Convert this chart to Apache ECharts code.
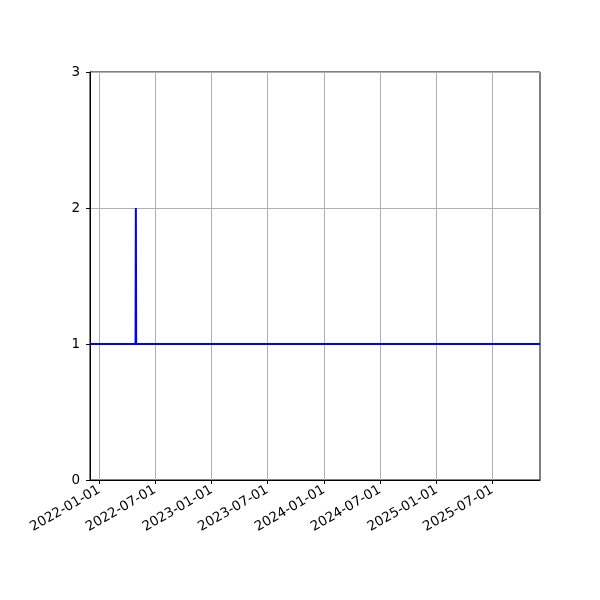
<!DOCTYPE html>
<html>
<head>
<meta charset="utf-8">
<script src="https://cdn.jsdelivr.net/npm/echarts@6/dist/echarts.min.js"></script>
<style>
  html, body { margin: 0; padding: 0; background: #fff; }
  #chart { width: 600px; height: 600px; }
</style>
</head>
<body>
<div id="chart"></div>
<script>
// series: constant 1 with a one-day jump to 2
var dates = ['2021-12-02', '2022-04-29', '2022-04-30', '2022-05-01', '2025-12-03'];
var values = [1, 1, 2, 1, 1];
var xTicks = ['2022-01-01', '2022-07-01', '2023-01-01', '2023-07-01',
              '2024-01-01', '2024-07-01', '2025-01-01', '2025-07-01'];
var yTicks = [0, 1, 2, 3];

var chart = echarts.init(document.getElementById('chart'));

var pts = [];
for (var i = 0; i < dates.length; i++) {
    pts.push([dates[i], values[i]]);
}
var tickTimes = xTicks.map(function (d) { return +new Date(d); });

var option = {
    animation: false,
    grid: {
        left: 90,
        right: 60,
        top: 72,
        bottom: 120,
        show: true,
        borderColor: '#000',
        borderWidth: 1
    },
    xAxis: {
        type: 'time',
        min: dates[0],
        max: dates[dates.length - 1],
        axisLine: { show: true, lineStyle: { color: '#000', width: 1 } },
        axisTick: {
            show: true,
            length: 4,
            customValues: tickTimes,
            lineStyle: { color: '#000' }
        },
        axisLabel: {
            customValues: tickTimes,
            rotate: 30,
            color: '#000',
            fontSize: 13.5,
            fontFamily: 'DejaVu Sans',
            margin: 9,
            formatter: '{yyyy}-{MM}-{dd}'
        },
        splitLine: {
            show: true,
            customValues: tickTimes,
            lineStyle: { color: '#b0b0b0', width: 1 }
        }
    },
    yAxis: {
        type: 'value',
        min: yTicks[0],
        max: yTicks[yTicks.length - 1],
        interval: 1,
        axisLine: { show: true, lineStyle: { color: '#000', width: 1 } },
        axisTick: { show: true, length: 4, lineStyle: { color: '#000' } },
        axisLabel: {
            color: '#000',
            fontSize: 13.5,
            fontFamily: 'DejaVu Sans',
            margin: 10
        },
        splitLine: { show: true, lineStyle: { color: '#b0b0b0', width: 1 } }
    },
    series: [
        {
            type: 'line',
            data: pts,
            showSymbol: false,
            lineStyle: { color: '#0000ff', width: 2 },
            itemStyle: { color: '#0000ff' }
        }
    ]
};

chart.setOption(option);
</script>
</body>
</html>
